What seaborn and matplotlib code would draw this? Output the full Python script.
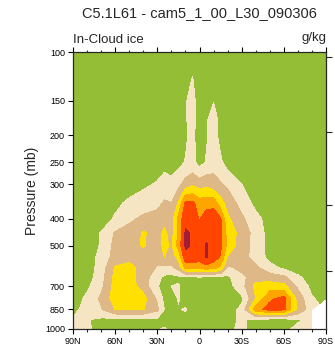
import numpy as np
import matplotlib
matplotlib.use('Agg')
import matplotlib.pyplot as plt
from matplotlib.ticker import FixedLocator, NullLocator, MultipleLocator
import seaborn as sns

sns.set_style('ticks')
plt.rcParams['font.family'] = ['Liberation Sans', 'DejaVu Sans']

# zonal mean in-cloud ice (arbitrary units, band index 0-6)
lats = [90, 80, 70, 60, 50, 40, 30, 25, 20, 15, 10, 5, 0,
        -5, -10, -15, -20, -30, -40, -50, -60, -70, -80, -90]
pres = [100, 125, 150, 175, 200, 250, 300, 350, 400, 450,
        500, 550, 600, 650, 700, 775, 850, 925, 1000]
nan = np.nan

q100 = [0.2, 0.2, 0.2, 0.2, 0.2, 0.2, 0.2, 0.2, 0.2, 0.2, 0.3, 0.6, 0.2, 0.2, 0.3, 0.2, 0.2, 0.2, 0.2, 0.2, 0.2, 0.2, 0.2, 0.2]
q125 = [0.3, 0.3, 0.3, 0.3, 0.3, 0.3, 0.3, 0.3, 0.3, 0.3, 0.5, 1.05, 0.3, 0.4, 0.6, 0.3, 0.3, 0.3, 0.3, 0.3, 0.3, 0.3, 0.3, 0.3]
q150 = [0.3, 0.3, 0.3, 0.3, 0.3, 0.3, 0.3, 0.3, 0.3, 0.3, 0.9, 1.4, 0.4, 0.8, 0.95, 0.5, 0.3, 0.3, 0.3, 0.3, 0.3, 0.3, 0.3, 0.3]
q175 = [0.3, 0.3, 0.3, 0.3, 0.3, 0.3, 0.3, 0.3, 0.3, 0.3, 0.9, 1.4, 0.4, 0.9, 1.4, 0.7, 0.3, 0.3, 0.3, 0.3, 0.3, 0.3, 0.3, 0.3]
q200 = [0.3, 0.3, 0.3, 0.3, 0.3, 0.3, 0.3, 0.3, 0.3, 0.3, 0.85, 1.3, 0.4, 0.9, 1.4, 0.7, 0.3, 0.3, 0.3, 0.3, 0.3, 0.3, 0.3, 0.3]
q250 = [0.2, 0.2, 0.3, 0.3, 0.3, 0.4, 0.5, 0.6, 0.5, 0.7, 1.05, 1.3, 0.6, 1.1, 1.6, 1.15, 0.6, 0.4, 0.3, 0.3, 0.3, 0.3, 0.3, 0.3]
q300 = [0.2, 0.2, 0.3, 0.4, 0.6, 0.8, 1.1, 1.5, 1.3, 1.7, 2.4, 2.8, 2.5, 2.7, 2.4, 2.1, 1.8, 1.0, 0.5, 0.3, 0.3, 0.3, 0.3, 0.3]
q350 = [0.2, 0.3, 0.5, 0.8, 1.15, 1.5, 1.7, 2.1, 2.0, 3.1, 5.2, 5.2, 4.5, 4.6, 4.6, 3.4, 2.6, 1.6, 0.7, 0.4, 0.3, 0.3, 0.3, 0.3]
q400 = [0.2, 0.3, 0.6, 1.1, 1.8, 2.2, 2.4, 2.7, 2.5, 4.3, 5.7, 5.8, 4.9, 5.6, 5.7, 5.1, 3.2, 2.2, 1.3, 0.6, 0.3, 0.3, 0.3, 0.3]
q450 = [0.3, 0.5, 1.05, 2.1, 2.4, 3.1, 2.6, 3.2, 2.6, 4.2, 6.15, 5.9, 5.5, 5.7, 5.7, 5.3, 3.6, 2.6, 1.6, 0.6, 0.4, 0.3, 0.3, 0.3]
q500 = [0.3, 0.4, 1.1, 2.3, 2.6, 3.1, 2.5, 3.3, 2.8, 4.4, 6.15, 5.9, 5.6, 6.1, 5.6, 5.2, 3.7, 2.5, 1.6, 0.6, 0.4, 0.3, 0.3, 0.3]
q550 = [0.3, 0.5, 1.3, 2.4, 2.7, 2.5, 2.4, 3.0, 2.6, 3.3, 5.7, 5.6, 5.4, 6.05, 5.5, 4.9, 2.9, 2.4, 1.6, 0.7, 0.4, 0.3, 0.3, 0.3]
q600 = [0.3, 0.5, 1.4, 3.1, 3.3, 2.6, 1.9, 1.7, 1.8, 2.4, 4.3, 4.5, 4.4, 4.6, 4.4, 3.8, 1.8, 2.3, 2.2, 1.3, 0.8, 0.4, 0.3, 0.3]
q650 = [0.3, 0.5, 1.6, 3.3, 3.4, 2.5, 1.3, 0.8, 0.7, 0.8, 0.9, 0.9, 0.95, 0.9, 0.9, 0.8, 0.8, 1.7, 2.6, 2.5, 2.2, 1.2, 0.5, 0.3]
q700 = [0.3, 0.8, 1.7, 3.4, 3.5, 2.5, 1.1, 0.5, 1.0, 1.1, 0.4, 0.5, 0.5, 0.4, 0.6, 0.5, 0.6, 1.6, 3.3, 3.5, 3.3, 1.8, 0.7, 0.4]
q775 = [0.5, 1.2, 2.2, 3.5, 3.6, 3.4, 1.8, 0.7, 0.5, 1.1, 0.5, 0.4, 0.6, 0.3, 0.5, 0.4, 0.5, 0.8, 3.0, 4.8, 5.3, 2.6, 1.1, 0.6]
q850 = [0.6, 1.5, 1.9, 3.0, 3.1, 3.05, 2.2, 1.0, 0.6, 0.9, 1.1, 0.5, 0.6, 0.4, 0.8, 0.4, 0.6, 1.2, 4.6, 5.4, 5.2, 2.8, 1.4, nan]
q925 = [1.2, 1.05, 0.8, 0.7, 0.8, 0.7, 0.8, 0.6, 0.7, 0.8, 0.6, 0.7, 0.5, 0.6, 0.7, 0.5, 0.8, 1.1, 0.8, 0.7, 0.7, 0.9, 1.2, nan]
q1000 = [1.3, 1.1, 0.8, 0.7, 0.8, 0.7, 0.9, 1.1, 0.7, 0.8, 0.6, 0.7, 0.8, 0.6, 0.7, 0.8, 0.9, 1.1, 0.8, 0.7, 0.8, 1.2, 1.3, nan]

field = np.array([q100, q125, q150, q175, q200, q250, q300, q350, q400, q450,
                  q500, q550, q600, q650, q700, q775, q850, q925, q1000])

bounds = [-10, 1, 2, 3, 4, 5, 6, 10]
fill_colors = ['#94be36', '#f5e5c2', '#deb887', '#ffe000',
               '#ffa500', '#ff4500', '#a01e3c']

press_ticks = [100, 150, 200, 250, 300, 400, 500, 700, 850, 1000]
lat_ticks = [90, 60, 30, 0, -30, -60, -90]
lat_labels = ['90N', '60N', '30N', '0', '30S', '60S', '90S']
# heights 4, 8, 12, 16 km on the right axis (no labels)
height_ticks_mb = [616, 356, 194, 104]

fig = plt.figure(figsize=(3.35, 3.56), dpi=100)
ax = fig.add_axes([73 / 335, 1 - 329 / 356, 253 / 335, 277 / 356])
ax.set_facecolor('white')

ax.contourf(lats, pres, field, levels=bounds, colors=fill_colors)

ax.set_yscale('log')
ax.set_ylim(1000, 100)
ax.set_xlim(90, -90)

ax.yaxis.set_major_locator(FixedLocator(press_ticks))
ax.yaxis.set_minor_locator(NullLocator())
ax.set_yticklabels([str(p) for p in press_ticks])
ax.set_xticks(lat_ticks)
ax.set_xticklabels(lat_labels)
ax.xaxis.set_minor_locator(MultipleLocator(10))

ax.tick_params(axis='both', which='major', direction='out', length=3.8,
               width=0.8, labelsize=6.5, pad=2, colors='black')
ax.tick_params(axis='both', which='minor', direction='out', length=1.8, width=0.8)
ax.tick_params(axis='x', which='both', top=True, bottom=True)
ax.tick_params(axis='y', which='both', left=True, right=False)
for sp in ax.spines.values():
    sp.set_linewidth(0.8)
    sp.set_color('black')

ax2 = ax.twinx()
ax2.set_yscale('log')
ax2.set_ylim(1000, 100)
ax2.yaxis.set_major_locator(FixedLocator(height_ticks_mb))
ax2.yaxis.set_minor_locator(NullLocator())
ax2.set_yticklabels([])
ax2.tick_params(axis='y', which='major', direction='out', length=4.2, width=0.8)
for sp in ax2.spines.values():
    sp.set_linewidth(0.8)

ax.set_ylabel('Pressure (mb)', fontsize=10, labelpad=4)

ax.annotate('In-Cloud ice', xy=(0, 1), xycoords='axes fraction',
            xytext=(0, 6.5), textcoords='offset points',
            ha='left', va='baseline', fontsize=9.5)
ax.annotate('g/kg', xy=(1, 1), xycoords='axes fraction',
            xytext=(0, 8), textcoords='offset points',
            ha='right', va='baseline', fontsize=9.5)

fig.text(199.5 / 335, 1 - 13.5 / 356, 'C5.1L61 - cam5_1_00_L30_090306',
         ha='center', va='center', fontsize=10.5)

fig.savefig('out.png', dpi=100)
